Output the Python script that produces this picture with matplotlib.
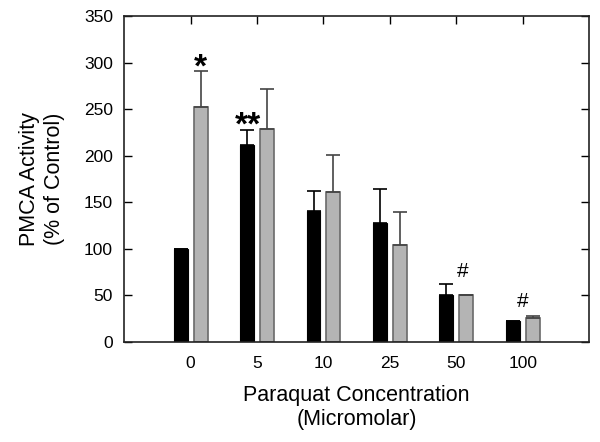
import matplotlib.pyplot as plt
import numpy as np

plt.rcParams['font.family'] = ['Liberation Sans', 'DejaVu Sans']

# Data
concentrations = ['0', '5', '10', '25', '50', '100']
black_vals = [100, 212, 141, 128, 50, 23]
black_err = [0, 16, 21, 36, 12, 0]
gray_vals = [252, 229, 161, 104, 50, 26]
gray_err = [39, 43, 40, 36, 0, 2]

# significance marks: (category, x shift, y value, text)
marks = [(0, 0.15, 302, '*'), (1, -0.13, 240, '**'), (4, 0.09, 76, '#'), (5, 0.0, 43, '#')]

fig = plt.figure(figsize=(6, 4.42), dpi=100)
ax = fig.add_axes([0.207, 0.2262, 0.775, 0.7376])

x = np.arange(len(concentrations))
w = 0.21
off = 0.15

ax.bar(x - off, black_vals, w, color='black', edgecolor='black', linewidth=0.8,
       yerr=[np.zeros(len(x)), black_err], capsize=5,
       error_kw=dict(ecolor='black', elinewidth=1.2, capthick=1.2))
ax.bar(x + off, gray_vals, w, color='#b4b4b4', edgecolor='#6a6a6a', linewidth=1.2,
       yerr=[np.zeros(len(x)), gray_err], capsize=5,
       error_kw=dict(ecolor='#444444', elinewidth=1.2, capthick=1.2))

for c, dx, yv, txt in marks:
    if '*' in txt:
        # the star glyph sits high in its box, so shift it down a bit
        ax.text(c + dx, yv - 8, txt, ha='center', va='center', fontsize=24,
                fontweight='bold')
    else:
        ax.text(c + dx, yv, txt, ha='center', va='center', fontsize=15)

ax.set_xlim(-1, 6)
ax.set_ylim(0, 350)
ax.set_yticks(range(0, 351, 50))
ax.set_xticks(x)
ax.set_xticklabels(concentrations)

ax.tick_params(axis='y', direction='in', length=6, width=1, labelsize=12.5,
               right=True, pad=8)
ax.tick_params(axis='x', direction='in', length=0, labelsize=12.5, pad=10)
# top ticks at category positions
sec = ax.secondary_xaxis('top')
sec.set_xticks(x)
sec.set_xticklabels([])
sec.tick_params(direction='in', length=6, width=1)
sec.spines['top'].set_visible(False)

for s in ax.spines.values():
    s.set_linewidth(1.2)
    s.set_color('#222222')

ax.set_xlabel('Paraquat Concentration\n(Micromolar)', fontsize=15.5, labelpad=10)
ax.set_ylabel('PMCA Activity\n(% of Control)', fontsize=15.5, labelpad=14)

fig.savefig('out.png', dpi=100)
